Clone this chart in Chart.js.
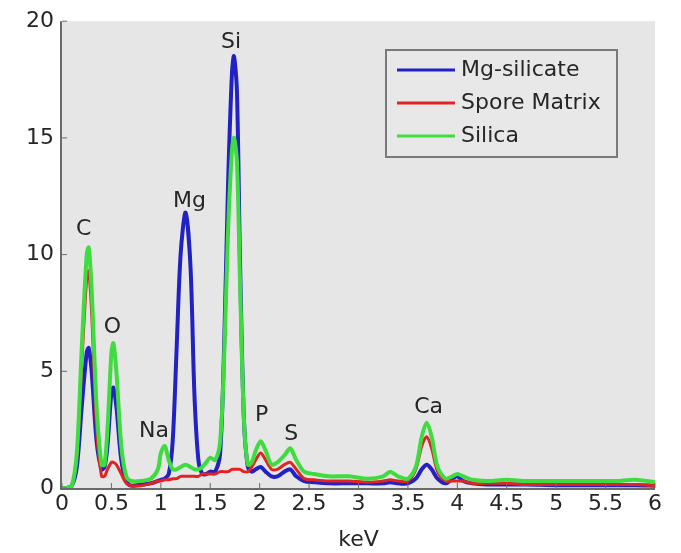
<!DOCTYPE html>
<html><head><meta charset="utf-8">
<script src="https://cdn.jsdelivr.net/npm/chart.js@4"></script>
<style>html,body{margin:0;padding:0;background:#fff}#wrap{width:681px;height:553px}</style>
</head><body><div id="wrap"><canvas id="c" width="681" height="553"></canvas></div>
<script>
const energy = [0,0.05,0.10,0.15,0.20,0.25,0.27,0.30,0.35,0.40,0.43,0.46,0.50,0.52,0.55,0.60,0.65,0.70,0.80,0.90,0.97,1.00,1.04,1.08,1.12,1.16,1.20,1.25,1.30,1.34,1.38,1.42,1.46,1.50,1.55,1.60,1.64,1.68,1.72,1.74,1.77,1.80,1.84,1.88,1.92,1.96,2.01,2.06,2.12,2.18,2.25,2.31,2.37,2.45,2.55,2.70,2.90,3.10,3.25,3.32,3.40,3.50,3.58,3.64,3.69,3.74,3.80,3.88,3.95,4.00,4.06,4.15,4.30,4.50,4.70,5.00,5.30,5.60,5.80,6.00];
const silica = [0,0,0.1,1.5,6.0,10.0,10.3,8.5,3.5,1.0,1.0,2.5,5.8,6.2,5.0,1.8,0.5,0.3,0.3,0.4,0.8,1.5,1.8,1.2,0.8,0.8,0.9,1.0,0.9,0.8,0.8,0.9,1.1,1.3,1.2,2.0,5.5,11.0,14.5,15.0,14.0,9.0,3.0,1.0,1.1,1.6,2.0,1.6,1.0,1.1,1.4,1.7,1.2,0.7,0.6,0.5,0.5,0.4,0.5,0.7,0.5,0.4,0.9,2.2,2.8,2.2,0.9,0.4,0.5,0.6,0.5,0.35,0.3,0.35,0.3,0.3,0.3,0.3,0.35,0.25];
const sporeMatrix = [0,0,0.1,1.3,5.3,9.0,9.3,7.5,2.5,0.5,0.5,0.8,1.1,1.1,1.0,0.6,0.2,0.1,0.1,0.2,0.3,0.3,0.35,0.35,0.4,0.4,0.5,0.5,0.5,0.5,0.5,0.6,0.6,0.6,0.6,0.7,0.7,0.7,0.8,0.8,0.8,0.8,0.7,0.7,0.9,1.2,1.5,1.2,0.8,0.8,1.0,1.1,0.8,0.4,0.35,0.3,0.3,0.25,0.3,0.35,0.3,0.3,0.8,1.8,2.2,1.7,0.7,0.3,0.3,0.3,0.3,0.2,0.2,0.2,0.15,0.15,0.15,0.15,0.15,0.1];
const mgSilicate = [0,0,0.1,0.9,3.5,5.8,6.0,5.0,2.0,0.8,0.9,1.8,4.1,4.3,3.5,1.2,0.3,0.1,0.15,0.2,0.3,0.35,0.4,0.6,2.0,6.0,10.0,11.8,9.5,4.0,1.2,0.6,0.6,0.7,0.7,1.5,6.0,13.0,17.8,18.5,17.0,10.0,3.0,0.9,0.7,0.8,0.9,0.7,0.5,0.5,0.7,0.8,0.5,0.3,0.25,0.2,0.2,0.2,0.2,0.25,0.2,0.2,0.4,0.8,1.0,0.8,0.4,0.2,0.4,0.5,0.3,0.2,0.15,0.15,0.15,0.12,0.12,0.12,0.12,0.1];
const seriesNames = ['Mg-silicate','Spore Matrix','Silica'];
const xTicks = [0,0.5,1,1.5,2,2.5,3,3.5,4,4.5,5,5.5,6];
const yTicks = [0,5,10,15,20];
const peakLabels = ['C','O','Na','Mg','Si','P','S','Ca'];
const peakX = [0.22,0.51,0.93,1.29,1.71,2.02,2.32,3.71];
const peakY = [11.1,6.9,2.45,12.3,19.1,3.1,2.3,3.45];

const FONT = 'DejaVu Sans, Arial, sans-serif';
const colors = ['#2121c4','#e02424','#3fdc3f'];
const toPts = arr => arr.map((v,i)=>({x:energy[i],y:v}));

const plotBg = {
  id:'plotBg',
  beforeDraw(chart){
    const {ctx,chartArea:a}=chart;
    ctx.save(); ctx.fillStyle='#e6e6e6';
    ctx.fillRect(a.left,a.top,a.right-a.left,a.bottom-a.top);
    ctx.restore();
  },
  afterDatasetsDraw(chart){
    const {ctx,chartArea:a,scales}=chart;
    ctx.save();
    // axes
    ctx.strokeStyle='#6a6a6a'; ctx.lineWidth=2;
    ctx.beginPath(); ctx.moveTo(a.left-1,a.top); ctx.lineTo(a.left-1,a.bottom+1); ctx.lineTo(a.right,a.bottom+1); ctx.stroke();
    ctx.lineWidth=1;
    xTicks.forEach(t=>{const px=scales.x.getPixelForValue(t); ctx.beginPath(); ctx.moveTo(px,a.bottom); ctx.lineTo(px,a.bottom-5); ctx.stroke();});
    yTicks.forEach(t=>{const py=scales.y.getPixelForValue(t); ctx.beginPath(); ctx.moveTo(a.left,py); ctx.lineTo(a.left+5,py); ctx.stroke();});
    // peak labels
    ctx.fillStyle='#262626'; ctx.font='22px '+FONT; ctx.textAlign='center'; ctx.textBaseline='middle';
    peakLabels.forEach((l,i)=>ctx.fillText(l,scales.x.getPixelForValue(peakX[i]),scales.y.getPixelForValue(peakY[i])));
    // legend
    const lx=386, ly=50, lw=231, lh=107;
    ctx.fillStyle='#e8e8e8'; ctx.fillRect(lx,ly,lw,lh);
    ctx.strokeStyle='#7a7a7a'; ctx.lineWidth=2; ctx.strokeRect(lx,ly,lw,lh);
    const rows=[70,103,136];
    ctx.textAlign='left';
    seriesNames.forEach((n,i)=>{
      ctx.strokeStyle=colors[i]; ctx.lineWidth=3;
      ctx.beginPath(); ctx.moveTo(397,rows[i]); ctx.lineTo(455,rows[i]); ctx.stroke();
      ctx.fillStyle='#262626'; ctx.fillText(n,461,rows[i]);
    });
    ctx.restore();
  }
};

new Chart(document.getElementById('c'),{
  type:'line',
  data:{datasets:[
    {label:seriesNames[0],data:toPts(mgSilicate),borderColor:colors[0],borderWidth:4,pointRadius:0,tension:0.3,order:3},
    {label:seriesNames[1],data:toPts(sporeMatrix),borderColor:colors[1],borderWidth:3,pointRadius:0,tension:0.3,order:2},
    {label:seriesNames[2],data:toPts(silica),borderColor:colors[2],borderWidth:4,pointRadius:0,tension:0.3,order:1}
  ]},
  options:{
    responsive:false, animation:false, devicePixelRatio:1,
    layout:{padding:{top:21,right:26,left:0,bottom:0}},
    plugins:{legend:{display:false},tooltip:{enabled:false}},
    scales:{
      x:{type:'linear',min:0,max:6,
        afterBuildTicks:s=>{s.ticks=xTicks.map(v=>({value:v}));},
        afterFit:s=>{s.height=65;},
        grid:{display:false,drawTicks:false},border:{display:false},
        ticks:{color:'#262626',font:{family:FONT,size:22},padding:3,maxRotation:0,autoSkip:false,callback:v=>String(v)},
        title:{display:true,text:'keV',color:'#262626',font:{family:FONT,size:22},padding:{top:0,bottom:0}}
      },
      y:{type:'linear',min:0,max:20,
        afterBuildTicks:s=>{s.ticks=yTicks.map(v=>({value:v}));},
        afterFit:s=>{s.width=62;},
        grid:{display:false,drawTicks:false},border:{display:false},
        ticks:{color:'#262626',font:{family:FONT,size:22},padding:8,callback:v=>String(v)}
      }
    }
  },
  plugins:[plotBg]
});
</script></body></html>
